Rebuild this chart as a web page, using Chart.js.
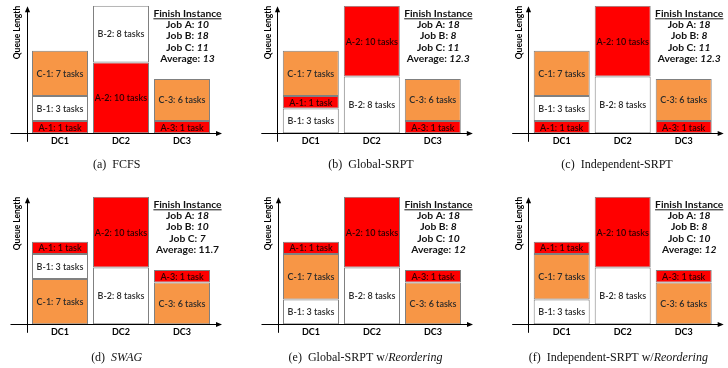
<!DOCTYPE html>
<html><head><meta charset="utf-8">
<script src="https://cdn.jsdelivr.net/npm/chart.js@4.4.1/dist/chart.umd.min.js"></script>
<style>
html,body{margin:0;padding:0;background:#fff;}
#wrap{position:relative;width:728px;height:368px;overflow:hidden;background:#fff;}
canvas{position:absolute;}
</style></head><body><div id="wrap"></div>
<script>
// ---------- data ----------
const categories = ['DC1', 'DC2', 'DC3'];
const segmentNames = ['A-1', 'B-1', 'C-1', 'A-2', 'B-2', 'A-3', 'C-3'];
const segmentTasks = [1, 3, 7, 10, 8, 1, 6];
// queue length of each segment as drawn in the picture (schematic heights)
const segmentHeights = [1.75, 3.5, 6.4, 10, 8, 1.75, 5.9];

// stacking order, bottom to top, per data center
const orderFCFS = [['A-1', 'B-1', 'C-1'], ['A-2', 'B-2'], ['A-3', 'C-3']];
const orderGlobalSRPT = [['B-1', 'A-1', 'C-1'], ['B-2', 'A-2'], ['A-3', 'C-3']];
const orderIndepSRPT = [['A-1', 'B-1', 'C-1'], ['B-2', 'A-2'], ['A-3', 'C-3']];
const orderSWAG = [['C-1', 'B-1', 'A-1'], ['B-2', 'A-2'], ['C-3', 'A-3']];
const orderGlobalReorder = [['B-1', 'C-1', 'A-1'], ['B-2', 'A-2'], ['C-3', 'A-3']];
const orderIndepReorder = [['B-1', 'C-1', 'A-1'], ['B-2', 'A-2'], ['C-3', 'A-3']];

const finishLabels = ['Job A: ', 'Job B: ', 'Job C: ', 'Average: '];
const finishFCFS = ['10', '18', '11', '13'];
const finishGlobalSRPT = ['18', '8', '11', '12.3'];
const finishIndepSRPT = ['18', '8', '11', '12.3'];
const finishSWAG = ['18', '10', '7', '11.7'];
const finishGlobalReorder = ['18', '8', '10', '12'];
const finishIndepReorder = ['18', '8', '10', '12'];
const averageItalic = [true, true, true, false, true, true];

const captionFCFS = [['(a)  ', false], ['FCFS', false]];
const captionGlobalSRPT = [['(b)  ', false], ['Global-SRPT', false]];
const captionIndepSRPT = [['(c)  ', false], ['Independent-SRPT', false]];
const captionSWAG = [['(d)  ', false], ['SWAG', true]];
const captionGlobalReorder = [['(e)  ', false], ['Global-SRPT w/', false], ['Reordering', true]];
const captionIndepReorder = [['(f)  ', false], ['Independent-SRPT w/', false], ['Reordering', true]];

// ---------- style / layout ----------
const jobColors = { A: '#FF0000', B: '#FFFFFF', C: '#F79646' };
const layouts = [
  { x: 0,   y: 0,   w: 240, h: 180, left: 29.5, right: 212.5, top: 5.7,  bottom: 133.3, capX: 116.7, capY: 165 },
  { x: 240, y: 0,   w: 240, h: 180, left: 40.3, right: 223.3, top: 5.7,  bottom: 133.3, capX: 131,   capY: 165 },
  { x: 480, y: 0,   w: 248, h: 180, left: 51.2, right: 234.2, top: 5.7,  bottom: 133.3, capX: 137,   capY: 165 },
  { x: 0,   y: 180, w: 240, h: 188, left: 29.5, right: 212.5, top: 16.7, bottom: 144.3, capX: 116.7, capY: 177.7 },
  { x: 240, y: 180, w: 240, h: 188, left: 40.5, right: 223.5, top: 16.7, bottom: 144.3, capX: 125.5, capY: 177.7 },
  { x: 480, y: 180, w: 248, h: 188, left: 51.2, right: 234.2, top: 16.7, bottom: 144.3, capX: 138.3, capY: 177.7 }
];

const SEG_FONT = '600 9px Lato';
const FIN_FONT = 'bold 10.3px Lato';
const FIN_FONT_I = 'italic bold 10.3px Lato';
const CAP_FONT = '12px "Liberation Serif", "Times New Roman", serif';
const CAP_FONT_I = 'italic 12px "Liberation Serif", "Times New Roman", serif';

function arrowHead(ctx, x, y, dir) {
  ctx.beginPath();
  if (dir === 'up') { ctx.moveTo(x, y); ctx.lineTo(x - 2.6, y + 6); ctx.lineTo(x + 2.6, y + 6); }
  else { ctx.moveTo(x, y); ctx.lineTo(x - 6, y - 2.6); ctx.lineTo(x - 6, y + 2.6); }
  ctx.closePath(); ctx.fill();
}

const panelPlugin = {
  id: 'panelDeco',
  afterDatasetsDraw(chart) {
    const ctx = chart.ctx;
    chart.data.datasets.forEach((ds, di) => {
      const meta = chart.getDatasetMeta(di);
      meta.data.forEach((el, i) => {
        const n = ds.segNames[i];
        if (!n) return;
        const t = segmentTasks[segmentNames.indexOf(n)];
        const p = el.getProps(['x', 'y', 'base'], true);
        ctx.save();
        ctx.font = SEG_FONT; ctx.fillStyle = n[0] === 'A' ? '#2a0000' : '#2b2b2b';
        ctx.textAlign = 'center'; ctx.textBaseline = 'middle';
        ctx.fillText(n + ': ' + t + ' task' + (t > 1 ? 's' : ''), p.x, (p.y + p.base) / 2 + 0.5);
        ctx.restore();
      });
    });
  },
  afterDraw(chart, args, opts) {
    const ctx = chart.ctx, ca = chart.chartArea;
    ctx.save();
    // axes with arrows
    ctx.strokeStyle = '#000'; ctx.fillStyle = '#000'; ctx.lineWidth = 1;
    const yx = Math.round(ca.left - 3) + 0.5;
    const xy = Math.round(ca.bottom) + 0.5;
    ctx.beginPath(); ctx.moveTo(yx, ca.bottom + 8.5); ctx.lineTo(yx, ca.top + 4); ctx.stroke();
    arrowHead(ctx, yx, ca.top + 0.5, 'up');
    ctx.beginPath(); ctx.moveTo(ca.left - 19, xy); ctx.lineTo(ca.right + 5, xy); ctx.stroke();
    arrowHead(ctx, ca.right + 9.5, xy, 'right');

    // finish instance block
    const cx = ca.right - 25;
    let y = ca.top + 7.6;
    ctx.textBaseline = 'middle'; ctx.fillStyle = '#111';
    ctx.font = FIN_FONT; ctx.textAlign = 'center';
    const head = 'Finish Instance';
    ctx.fillText(head, cx, y);
    const hw = ctx.measureText(head).width;
    ctx.fillRect(cx - hw / 2, y + 5, hw, 1);
    ctx.textAlign = 'left';
    opts.finish.forEach((v, i) => {
      y += 11.3;
      ctx.font = FIN_FONT;
      const w1 = ctx.measureText(finishLabels[i]).width;
      const italic = i < 3 || opts.avgItalic;
      ctx.font = italic ? FIN_FONT_I : FIN_FONT;
      const w2 = ctx.measureText(v).width;
      const x0 = cx - (w1 + w2) / 2;
      ctx.font = FIN_FONT; ctx.fillText(finishLabels[i], x0, y);
      ctx.font = italic ? FIN_FONT_I : FIN_FONT; ctx.fillText(v, x0 + w1, y);
    });

    // caption
    const lay = opts.layout;
    let total = 0;
    opts.caption.forEach(([s, it]) => { ctx.font = it ? CAP_FONT_I : CAP_FONT; total += ctx.measureText(s).width; });
    let x = lay.capX - total / 2;
    ctx.fillStyle = '#111';
    opts.caption.forEach(([s, it]) => {
      ctx.font = it ? CAP_FONT_I : CAP_FONT;
      ctx.fillText(s, x, lay.capY);
      x += ctx.measureText(s).width;
    });
    ctx.restore();
  }
};

const wrap = document.getElementById('wrap');

function makePanel(order, finish, caption, avgIt, lay) {
  const canvas = document.createElement('canvas');
  canvas.width = lay.w; canvas.height = lay.h;
  canvas.style.left = lay.x + 'px'; canvas.style.top = lay.y + 'px';
  canvas.style.width = lay.w + 'px'; canvas.style.height = lay.h + 'px';
  wrap.appendChild(canvas);
  const nLayers = Math.max(...order.map(o => o.length));
  const datasets = [];
  for (let L = 0; L < nLayers; L++) {
    const names = order.map(o => o[L] || null);
    datasets.push({
      label: 'layer ' + (L + 1),
      data: names.map(n => n ? segmentHeights[segmentNames.indexOf(n)] : null),
      segNames: names,
      backgroundColor: names.map(n => n ? jobColors[n[0]] : 'rgba(0,0,0,0)'),
      borderColor: '#808080', borderWidth: 1, borderSkipped: false,
      barPercentage: 56 / 61, categoryPercentage: 1
    });
  }
  new Chart(canvas, {
    type: 'bar',
    data: { labels: categories, datasets },
    options: {
      responsive: false, animation: false, devicePixelRatio: 1,
      layout: { padding: { left: lay.left - 17, top: lay.top, right: lay.w - lay.right, bottom: lay.h - lay.bottom - 14 } },
      plugins: {
        legend: { display: false }, tooltip: { enabled: false },
        panelDeco: { finish, caption, avgItalic: avgIt, layout: lay }
      },
      scales: {
        x: {
          stacked: true, grid: { display: false, drawTicks: false }, border: { display: false },
          ticks: { padding: 2, color: '#000', font: { family: 'Lato', weight: 'bold', size: 9 } },
          afterFit(s) { s.height = 14; }
        },
        y: {
          stacked: true, min: 0, max: 18,
          grid: { display: false, drawTicks: false }, border: { display: false },
          ticks: { display: false },
          title: { display: true, text: 'Queue Length', align: 'end', padding: 0, color: '#000',
                   font: { family: 'Lato', weight: 'bold', size: 8.5 } },
          afterFit(s) { s.width = 17; }
        }
      }
    },
    plugins: [panelPlugin]
  });
}

makePanel(orderFCFS, finishFCFS, captionFCFS, averageItalic[0], layouts[0]);
makePanel(orderGlobalSRPT, finishGlobalSRPT, captionGlobalSRPT, averageItalic[1], layouts[1]);
makePanel(orderIndepSRPT, finishIndepSRPT, captionIndepSRPT, averageItalic[2], layouts[2]);
makePanel(orderSWAG, finishSWAG, captionSWAG, averageItalic[3], layouts[3]);
makePanel(orderGlobalReorder, finishGlobalReorder, captionGlobalReorder, averageItalic[4], layouts[4]);
makePanel(orderIndepReorder, finishIndepReorder, captionIndepReorder, averageItalic[5], layouts[5]);
</script>
</body></html>
